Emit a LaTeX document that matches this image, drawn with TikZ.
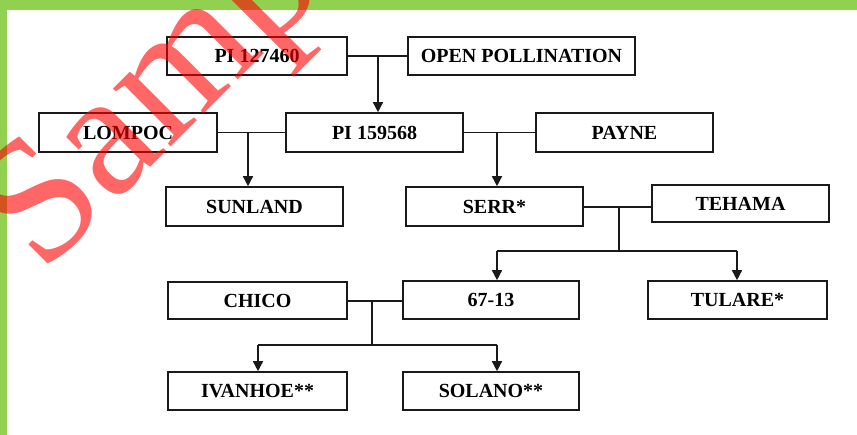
\documentclass[tikz,border=0pt]{standalone}
\usepackage{fontspec}
\setmainfont{Liberation Serif}
\newfontfamily\wmfont{Liberation Serif}
\usetikzlibrary{arrows.meta}
\definecolor{framegreen}{HTML}{92D050}
\definecolor{inkline}{HTML}{1A1A1A}
\begin{document}
\begin{tikzpicture}[x=1pt,y=1pt,
  box/.style={draw=inkline, line width=1.6pt, inner sep=0pt, fill=white,
    font=\fontsize{20}{22}\selectfont\bfseries, text=black},
  link/.style={draw=inkline, line width=1.5pt},
  arr/.style={link, -{Triangle[length=10pt,width=10pt]}}]
\useasboundingbox (0,0) rectangle (857,-435);
\fill[white] (0,0) rectangle (857,-435);
\fill[framegreen] (0,0) rectangle (857,-10);
\fill[framegreen] (0,0) rectangle (7,-435);
% boxes
\node[box, minimum width=180pt, minimum height=38pt] (A) at (257,-56) {PI 127460};
\node[box, minimum width=227pt, minimum height=38pt] (B) at (521.5,-56) {OPEN POLLINATION};
\node[box, minimum width=178pt, minimum height=39pt] (C) at (128,-132.5) {LOMPOC};
\node[box, minimum width=177pt, minimum height=39pt] (D) at (374.5,-132.5) {PI 159568};
\node[box, minimum width=177pt, minimum height=39pt] (E) at (624.5,-132.5) {PAYNE};
\node[box, minimum width=177pt, minimum height=39pt] (F) at (254.5,-206.5) {SUNLAND};
\node[box, minimum width=177pt, minimum height=39pt] (G) at (494.5,-206.5) {SERR*};
\node[box, minimum width=177pt, minimum height=37pt] (H) at (740.5,-203.5) {TEHAMA};
\node[box, minimum width=176pt, minimum height=38pt] (I) at (491,-300) {67-13};
\node[box, minimum width=179pt, minimum height=38pt] (J) at (737.5,-300) {TULARE*};
\node[box, minimum width=179pt, minimum height=37pt] (K) at (257.5,-300.5) {CHICO};
\node[box, minimum width=179pt, minimum height=38pt] (L) at (257.5,-391) {IVANHOE**};
\node[box, minimum width=176pt, minimum height=38pt] (M) at (491,-391) {SOLANO**};
% junction points
\coordinate (j1) at (378,-56);
\coordinate (j2) at (248,-132);
\coordinate (j3) at (497,-132);
\coordinate (j4) at (619,-207);
\coordinate (j4b) at (619,-251);
\coordinate (j4l) at (497,-251);
\coordinate (j4r) at (737,-251);
\coordinate (j5) at (372,-301);
\coordinate (j5b) at (372,-345);
\coordinate (j5l) at (258,-345);
\coordinate (j5r) at (497,-345);
% connectors
\draw[link] (A) -- (B);
\draw[arr] (j1) -- (j1 |- D.north);
\draw[link] (C) -- (D);
\draw[arr] (j2) -- (j2 |- F.north);
\draw[link] (D) -- (E);
\draw[arr] (j3) -- (j3 |- G.north);
\draw[link] (G.east |- j4) -- (H.west |- j4);
\draw[link] (j4) -- (j4b);
\draw[link] (j4l) -- (j4r);
\draw[arr] (j4l) -- (j4l |- I.north);
\draw[arr] (j4r) -- (j4r |- J.north);
\draw[link] (K.east |- j5) -- (I.west |- j5);
\draw[link] (j5) -- (j5b);
\draw[link] (j5l) -- (j5r);
\draw[arr] (j5l) -- (j5l |- L.north);
\draw[arr] (j5r) -- (j5r |- M.north);
% watermark
\begin{scope}
\clip (0,0) rectangle (857,-435);
\node[rotate=45, anchor=base west, inner sep=0pt, text=red, text opacity=0.6,
  font=\wmfont\fontsize{178}{178}\selectfont] (wm) at (42,-276) {Sample};
\end{scope}
\end{tikzpicture}
\end{document}
